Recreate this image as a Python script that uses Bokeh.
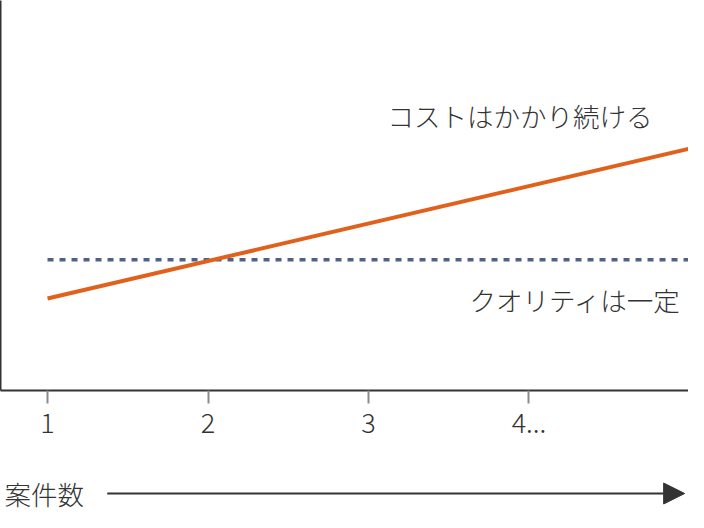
from bokeh.plotting import figure
from bokeh.layouts import column
from bokeh.models import Range1d, FixedTicker, Label, Arrow, NormalHead, ColumnDataSource
from bokeh.embed import file_html
from bokeh.resources import INLINE

# ---- data ----
x_ticks = [1, 2, 3, 4]
tick_labels = ["1", "2", "3", "4..."]
cost_x = [1, 5]
cost_y = [2.36, 6.2]
quality_x = [1, 5]
quality_y = [3.35, 3.35]
cost_text = "コストはかかり続ける"
quality_text = "クオリティは一定"
axis_title = "案件数"

FONT = "Noto Sans CJK JP Light"
TXT = "#333333"


def setup_yaxis(fig, line_color):
    ya = fig.yaxis[0]
    ya.ticker = FixedTicker(ticks=[])
    ya.major_tick_out = 0
    ya.major_tick_in = 0
    ya.minor_tick_out = 0
    ya.minor_tick_in = 0
    ya.major_label_text_font_size = "0px"
    ya.major_label_standoff = 0
    ya.axis_line_color = line_color
    ya.axis_line_width = 2


p = figure(width=688, height=450, output_backend="svg", toolbar_location=None,
           x_range=Range1d(0.707, 4.994), y_range=Range1d(0, 10),
           min_border_left=0, min_border_right=0, min_border_top=0,
           min_border_bottom=60)
p.grid.visible = False
p.outline_line_color = None
setup_yaxis(p, TXT)

xa = p.xaxis[0]
xa.ticker = FixedTicker(ticks=x_ticks)
xa.major_label_overrides = {t: l for t, l in zip(x_ticks, tick_labels)}
xa.axis_line_color = TXT
xa.axis_line_width = 2
xa.major_tick_out = 13
xa.major_tick_in = 0
xa.minor_tick_out = 0
xa.minor_tick_in = 0
xa.major_tick_line_color = "#8a8a8a"
xa.major_tick_line_width = 2
xa.major_label_standoff = 9
xa.major_label_text_font = FONT
xa.major_label_text_font_size = "27px"
xa.major_label_text_color = TXT

src_q = ColumnDataSource(dict(x=quality_x, y=quality_y))
src_c = ColumnDataSource(dict(x=cost_x, y=cost_y))
p.line("x", "y", source=src_q, line_color="#4F6186", line_width=3.5, line_dash="6 6")
p.line("x", "y", source=src_c, line_color="#E1601C", line_width=4)

p.add_layout(Label(x=4.77, y=7.06, text=cost_text, text_align="right", text_baseline="middle",
                   text_font=FONT, text_font_size="26.5px", text_color=TXT))
p.add_layout(Label(x=4.95, y=2.34, text=quality_text, text_align="right", text_baseline="middle",
                   text_font=FONT, text_font_size="26.5px", text_color=TXT))

# bottom row: axis title and arrow
p2 = figure(width=688, height=62, output_backend="svg", toolbar_location=None,
            x_range=p.x_range, y_range=Range1d(0, 62), x_axis_location=None,
            min_border_left=0, min_border_right=0, min_border_top=0, min_border_bottom=0)
p2.grid.visible = False
p2.outline_line_color = None
setup_yaxis(p2, None)

p2.add_layout(Label(x=0.732, y=19, text=axis_title, text_align="left", text_baseline="middle",
                    text_font=FONT, text_font_size="26.5px", text_color=TXT))
p2.add_layout(Arrow(x_start=1.372, y_start=19, x_end=4.97, y_end=19,
                    line_color=TXT, line_width=2,
                    end=NormalHead(size=21, fill_color=TXT, line_color=TXT)))

layout = column(p, p2, spacing=0)
open("out.html", "w").write(file_html(layout, INLINE))
